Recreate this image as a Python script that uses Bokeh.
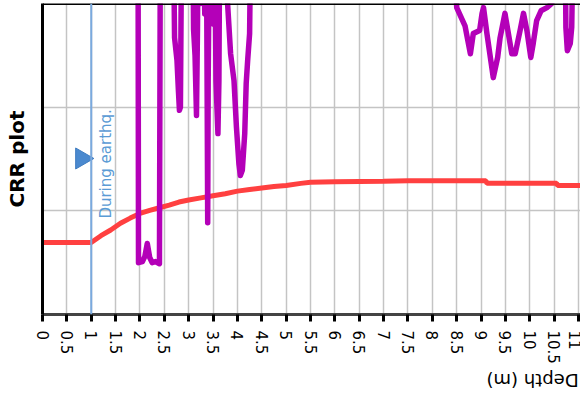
import numpy as np
from bokeh.plotting import figure
from bokeh.layouts import column
from bokeh.models import Span, Label, FixedTicker, NumeralTickFormatter, Range1d
from bokeh.core.properties import value
from bokeh.embed import file_html
from bokeh.resources import INLINE

# ---- data ----
depth_ticks = [0, 0.5, 1, 1.5, 2, 2.5, 3, 3.5, 4, 4.5, 5, 5.5, 6, 6.5, 7, 7.5,
               8, 8.5, 9, 9.5, 10, 10.5, 11]
crr_grid = [0.2, 0.4]

# CSR / earthquake curve (red)
red_depth = [0.0, 1.0, 1.2, 1.4, 1.6, 1.8, 2.0, 2.2, 2.4, 2.6, 2.8, 3.0, 3.25,
             3.5, 3.75, 4.0, 4.25, 4.5, 4.75, 5.0, 5.3, 5.5, 6.0, 7.0, 7.5,
             9.1, 9.12, 10.55, 10.57, 11.1]
red_crr = [0.139, 0.139, 0.152, 0.163, 0.176, 0.186, 0.195, 0.201, 0.206,
           0.211, 0.217, 0.221, 0.225, 0.229, 0.233, 0.238, 0.241, 0.244,
           0.247, 0.249, 0.253, 0.255, 0.256, 0.257, 0.258, 0.258, 0.253,
           0.253, 0.249, 0.249]

# CRR curve (purple); 0.8 = off the top of the chart
crr_depth = [1.90, 1.96, 1.97, 2.05, 2.10, 2.15, 2.20, 2.25, 2.32, 2.40, 2.42,
             2.68, 2.71, 2.76, 2.79, 2.81, 2.83, 2.86,
             3.08, 3.10, 3.13, 3.16, 3.18, 3.20, 3.24, 3.28, 3.33, 3.36, 3.38,
             3.39, 3.40, 3.43, 3.51, 3.53, 3.56, 3.60, 3.62, 3.64,
             3.67, 3.86, 3.93, 3.98, 4.03, 4.06, 4.10, 4.15, 4.18, 4.21, 4.25,
             4.28,
             8.40, 8.50, 8.67, 8.78, 8.84, 8.97, 9.02, 9.05, 9.12, 9.19, 9.25,
             9.34, 9.39, 9.49, 9.56, 9.63, 9.70, 9.80, 9.87, 9.94, 10.02,
             10.07, 10.14, 10.23, 10.35, 10.45, 10.48,
             10.72, 10.74, 10.77, 10.83, 10.86, 10.90, 11.1]
crr_val = [0.8, 0.8, 0.100, 0.102, 0.112, 0.137, 0.110, 0.100, 0.102, 0.098, 0.8,
           0.8, 0.534, 0.490, 0.430, 0.394, 0.400, 0.8,
           0.8, 0.550, 0.500, 0.384, 0.550, 0.8, 0.600, 0.8, 0.580, 0.8, 0.400,
           0.177, 0.450, 0.8, 0.560, 0.8, 0.450, 0.349, 0.450, 0.8,
           0.8, 0.503, 0.451, 0.361, 0.291, 0.268, 0.278, 0.349, 0.446, 0.490,
           0.542, 0.8,
           0.8, 0.592, 0.557, 0.503, 0.542, 0.548, 0.581, 0.592, 0.542, 0.496,
           0.457, 0.496, 0.534, 0.581, 0.542, 0.503, 0.503, 0.548, 0.581,
           0.548, 0.496, 0.523, 0.567, 0.586, 0.592, 0.600, 0.8,
           0.8, 0.554, 0.509, 0.523, 0.554, 0.8, 0.8]

eq_depth = 1.0
marker_pos = (0.805, 0.301)
text_pos = (1.297, 0.185)

# ---- main figure ----
p = figure(width=580, height=368, x_range=Range1d(0, 11.04),
           y_range=Range1d(0, 0.6), output_backend="svg",
           toolbar_location=None, min_border_left=42, min_border_right=0,
           min_border_top=3, min_border_bottom=54)
p.outline_line_color = None
p.background_fill_color = "white"
p.border_fill_color = "white"

# grids
p.xgrid.ticker = FixedTicker(ticks=depth_ticks)
p.ygrid.ticker = FixedTicker(ticks=crr_grid)
for g in (p.xgrid[0], p.ygrid[0]):
    g.grid_line_color = "#c4c4c4"
    g.grid_line_width = 1.5

# x axis
xa = p.xaxis[0]
xa.ticker = FixedTicker(ticks=depth_ticks)
xa.formatter = NumeralTickFormatter(format="0.[0]")
xa.major_label_orientation = "vertical"
xa.major_label_text_font = "DejaVu Sans"
xa.major_label_text_font_size = "15px"
xa.major_label_text_color = "black"
xa.major_label_standoff = 9
xa.axis_line_color = "#444444"
xa.axis_line_width = 3
xa.major_tick_line_color = "black"
xa.major_tick_line_width = 3
xa.major_tick_out = 7
xa.major_tick_in = 0
xa.minor_tick_line_color = None

# y axis
ya = p.yaxis[0]
ya.ticker = FixedTicker(ticks=[])
ya.major_label_text_font_size = "0px"
ya.major_tick_line_color = None
ya.minor_tick_line_color = None
ya.axis_line_color = "black"
ya.axis_line_width = 3
ya.axis_label = "CRR plot"
ya.axis_label_text_font = "DejaVu Sans"
ya.axis_label_text_font_style = "bold"
ya.axis_label_text_font_size = "20px"
ya.axis_label_text_color = "black"
ya.axis_label_standoff = 14
ya.major_label_standoff = 0

# top border
p.add_layout(Span(location=0.6, dimension="width", line_color="black",
                  line_width=3))

# curves
p.line(red_depth, red_crr, line_color="#ff4040", line_width=5)
p.line(crr_depth, crr_val, line_color="#b400b8", line_width=5.5,
       line_join="round")

# earthquake line
p.add_layout(Span(location=eq_depth, dimension="height", line_color="#7aa9de",
                  line_width=2))
p.scatter([marker_pos[0]], [marker_pos[1]], marker="triangle", size=21,
          angle=-np.pi / 2, fill_color="#4a89cf", line_color="#3f7cc0",
          line_width=1)
p.add_layout(Label(x=text_pos[0], y=text_pos[1], text="During earthq.",
                   angle=np.pi / 2, text_align="left", text_baseline="middle",
                   text_font="DejaVu Sans", text_font_size="15px",
                   text_color="#5b9bd5"))

# ---- axis title strip (upside-down title, as in the reference) ----
t = figure(width=580, height=30, x_range=Range1d(0, 580),
           y_range=Range1d(0, 30), output_backend="svg",
           toolbar_location=None, min_border=0)
t.axis.visible = False
t.grid.visible = False
t.outline_line_color = None
t.text(x=[578], y=[18], text=["Depth (m)"], angle=np.pi, text_align="left",
       text_baseline="middle", text_font=value("DejaVu Sans"),
       text_font_size="18px", text_color="black")

layout = column(p, t, spacing=0)
open("out.html", "w").write(file_html(layout, INLINE))
